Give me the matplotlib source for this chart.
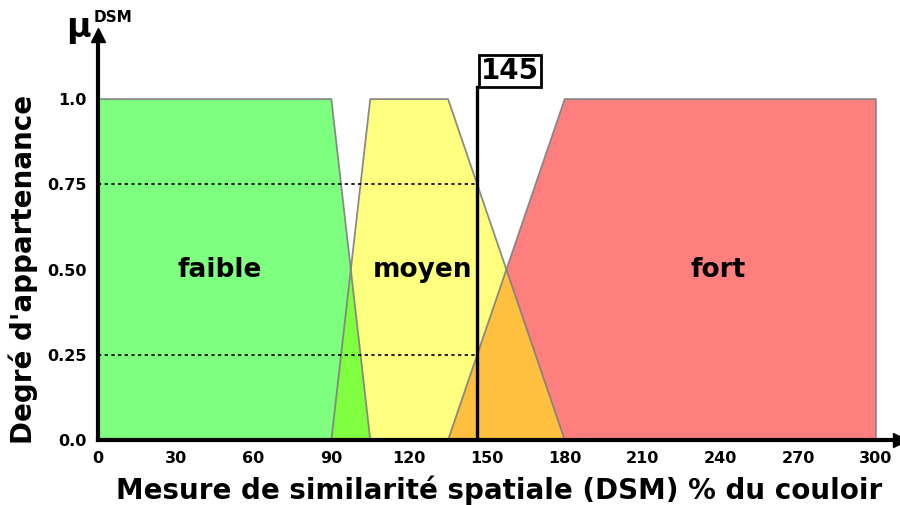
import numpy as np
import matplotlib.pyplot as plt

# membership functions (x breakpoints, mu values)
faible_x = [0, 0, 90, 105]
faible_y = [0, 1, 1, 0]
moyen_x = [90, 105, 135, 180]
moyen_y = [0, 1, 1, 0]
fort_x = [135, 180, 300, 300]
fort_y = [0, 1, 1, 0]

cut_x = 146          # position of the vertical line
cut_label = "145"
cut_levels = [0.75, 0.25]

xticks = list(range(0, 301, 30))
yticks = [0.0, 0.25, 0.5, 0.75, 1.0]
ytick_labels = ["0.0", "0.25", "0.50", "0.75", "1.0"]

fig = plt.figure(figsize=(9, 5.05), dpi=100)
ax = fig.add_axes([98 / 900, 65 / 505, 802 / 900, 405 / 505])

# draw order: red, yellow, green (alpha blending gives the overlap colours)
ax.fill(fort_x, fort_y, color='#ff0000', alpha=0.5, lw=0)
ax.fill(moyen_x, moyen_y, color='#ffff00', alpha=0.5, lw=0)
ax.fill(faible_x, faible_y, color='#00ff00', alpha=0.5, lw=0)
for xs, ys in [(fort_x, fort_y), (moyen_x, moyen_y), (faible_x, faible_y)]:
    ax.plot(xs, ys, color='#808080', lw=1.3, alpha=0.9)

ax.text(47, 0.5, 'faible', ha='center', va='center', fontsize=19, fontweight='bold')
ax.text(125, 0.5, 'moyen', ha='center', va='center', fontsize=19, fontweight='bold')
ax.text(239, 0.5, 'fort', ha='center', va='center', fontsize=19, fontweight='bold')

# cut line and dotted levels
ax.plot([cut_x, cut_x], [0, 1.035], color='black', lw=2.4)
for lv in cut_levels:
    ax.plot([0, cut_x], [lv, lv], color='black', lw=1.2, ls=(0, (2, 2)))
ax.text(cut_x + 1.6, 1.041, cut_label, ha='left', va='bottom', fontsize=20,
        fontweight='bold',
        bbox=dict(boxstyle='square,pad=0.06', fc='white', ec='black', lw=2))

ax.set_xlim(0, 309.3)
ax.set_ylim(0, 1.188)
ax.set_xticks(xticks)
ax.set_xticklabels([str(t) for t in xticks], fontweight='bold', fontsize=11.5)
ax.set_yticks(yticks)
ax.set_yticklabels(ytick_labels, fontweight='bold', fontsize=11.5)
ax.tick_params(length=0, pad=8)

for s in ['top', 'right']:
    ax.spines[s].set_visible(False)
for s in ['left', 'bottom']:
    ax.spines[s].set_linewidth(3)
    ax.spines[s].set_zorder(5)
ax.plot(1, 0, '>k', ms=10, transform=ax.transAxes, clip_on=False)
ax.plot(0, 1, '^k', ms=10, transform=ax.transAxes, clip_on=False)

ax.set_xlabel("Mesure de similarité spatiale (DSM) % du couloir",
              fontsize=20, fontweight='bold', labelpad=7)
ax.set_ylabel("Degré d'appartenance", fontsize=20, fontweight='bold')
ax.yaxis.set_label_coords(-60 / 802, 0.5 / 1.188)

fig.text(66 / 900, 1 - 28 / 505, 'μ', fontsize=24, fontweight='bold', va='center')
fig.text(94 / 900, 1 - 17 / 505, 'DSM', fontsize=11, fontweight='bold', va='center')

fig.savefig('out.png', dpi=100)
